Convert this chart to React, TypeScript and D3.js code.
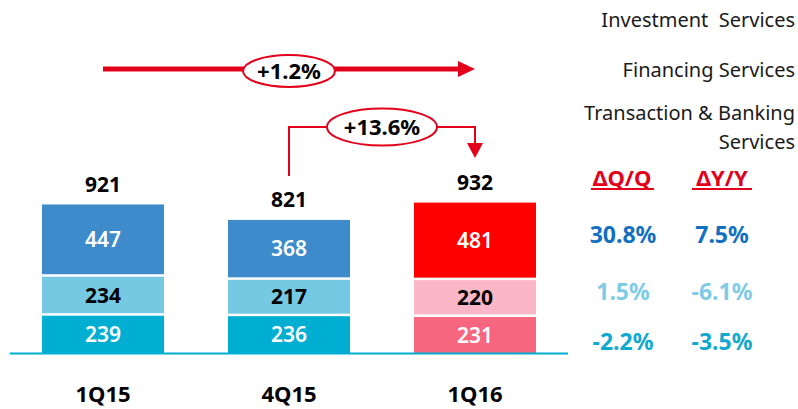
import React from "react";
import * as d3 from "d3";

const categories = ["1Q15", "4Q15", "1Q16"];
const transaction = [239, 236, 231];
const financing = [234, 217, 220];
const investment = [447, 368, 481];
const totals = [921, 821, 932];
const legendLabels = ["Investment  Services", "Financing Services", "Transaction & Banking", "Services"];
const deltaHeaders = ["ΔQ/Q", "ΔY/Y"];
const deltaQQ = ["30.8%", "1.5%", "-2.2%"];
const deltaYY = ["7.5%", "-6.1%", "-3.5%"];
const growthLabels = ["+1.2%", "+13.6%"];

const W = 798, H = 409;
const FONT = "'Noto Sans', 'Open Sans', sans-serif";
const normalColors = ["#00aed1", "#75c9e3", "#3d8bca"];
const hiColors = ["#f6667f", "#fbb7c6", "#ff0000"];
const labelColors = ["#ffffff", "#000000", "#ffffff"];
const deltaColors = ["#1170c0", "#7fcbe6", "#12a9cf"];
const RED = "#e2001a";

export default function App() {
  const x = d3.scaleBand<string>().domain(categories).range([42, 536]).paddingInner(0.344).paddingOuter(0);
  const y = d3.scaleLinear().domain([0, 1000]).range([353, 197]);
  const gap = 2.5;
  const series = [transaction, financing, investment];
  const cx = (c: string) => (x(c) as number) + x.bandwidth() / 2;

  const segs: any[] = [];
  categories.forEach((c, i) => {
    let cum = 0;
    series.forEach((s, j) => {
      const v = s[i];
      const top = y(cum + v) - j * gap;
      const bot = y(cum) - j * gap;
      segs.push({ c, i, j, v, top, bot });
      cum += v;
    });
  });
  const topOf = (i: number) => segs.filter((s) => s.i === i && s.j === 2)[0].top;

  const x0 = cx(categories[0]), x1 = cx(categories[1]), x2 = cx(categories[2]);
  const a1y = 69;
  const a2y = 127;

  return (
    <svg width={W} height={H} style={{ position: "absolute", left: 0, top: 0 }} fontFamily={FONT}>
      <rect width={W} height={H} fill="#fff" />
      {segs.map((s, k) => (
        <g key={k}>
          <rect x={x(s.c)} y={s.top} width={x.bandwidth()} height={s.bot - s.top}
            fill={s.i === 2 ? hiColors[s.j] : normalColors[s.j]} />
          <text x={cx(s.c)} y={(s.top + s.bot) / 2} dy="0.36em" textAnchor="middle" fontSize={21}
            fontWeight={s.j === 1 ? 700 : 600} fill={labelColors[s.j]}>{s.v}</text>
        </g>
      ))}
      {categories.map((c, i) => (
        <g key={c}>
          <text x={cx(c)} y={topOf(i) - 20} dy="0.36em" textAnchor="middle" fontSize={21} fontWeight={700} fill="#000">{totals[i]}</text>
          <text x={cx(c)} y={394} dy="0.36em" textAnchor="middle" fontSize={22} fontWeight={700} fill="#000">{c}</text>
        </g>
      ))}
      <line x1={10} x2={568} y1={353.5} y2={353.5} stroke="#00aed1" strokeWidth={2} />

      {/* Arrow 1 */}
      <line x1={x0} x2={x2 - 16} y1={a1y} y2={a1y} stroke={RED} strokeWidth={5} />
      <path d={`M${x2},${a1y} L${x2 - 17},${a1y - 8} L${x2 - 17},${a1y + 8} Z`} fill={RED} />
      <ellipse cx={(x0 + x2) / 2} cy={a1y + 2} rx={46} ry={16} fill="#fff" stroke={RED} strokeWidth={2} />
      <text x={(x0 + x2) / 2} y={a1y + 2} dy="0.36em" textAnchor="middle" fontSize={22} fontWeight={700}>{growthLabels[0]}</text>

      {/* Arrow 2 */}
      <path d={`M${x1},176 L${x1},${a2y} L${x2},${a2y} L${x2},144`} fill="none" stroke={RED} strokeWidth={2} />
      <path d={`M${x2 - 8},143 L${x2 + 8},143 L${x2},158 Z`} fill={RED} />
      <ellipse cx={(x1 + x2) / 2} cy={a2y} rx={55} ry={18.5} fill="#fff" stroke={RED} strokeWidth={2} />
      <text x={(x1 + x2) / 2} y={a2y} dy="0.36em" textAnchor="middle" fontSize={22} fontWeight={700}>{growthLabels[1]}</text>

      {/* Legend */}
      {[20, 70, 113, 142].map((yy, k) => (
        <text key={k} x={795} y={yy} dy="0.36em" textAnchor="end" fontSize={20} fill="#1a1a1a" style={{ whiteSpace: "pre" }}>{legendLabels[k]}</text>
      ))}

      {/* Delta table */}
      {deltaHeaders.map((h, k) => (
        <g key={h}>
          <text x={[622, 722][k]} y={178} dy="0.36em" textAnchor="middle" fontSize={22} fontWeight={700} fill={RED}>{h}</text>
          <line x1={[591, 692][k]} x2={[654, 752][k]} y1={189} y2={189} stroke={RED} strokeWidth={2} />
        </g>
      ))}
      {deltaQQ.map((v, k) => (
        <text key={"q" + k} x={623} y={[235, 292, 342][k]} dy="0.36em" textAnchor="middle" fontSize={23} fontWeight={700} fill={deltaColors[k]}>{v}</text>
      ))}
      {deltaYY.map((v, k) => (
        <text key={"y" + k} x={722} y={[235, 292, 342][k]} dy="0.36em" textAnchor="middle" fontSize={23} fontWeight={700} fill={deltaColors[k]}>{v}</text>
      ))}
    </svg>
  );
}
